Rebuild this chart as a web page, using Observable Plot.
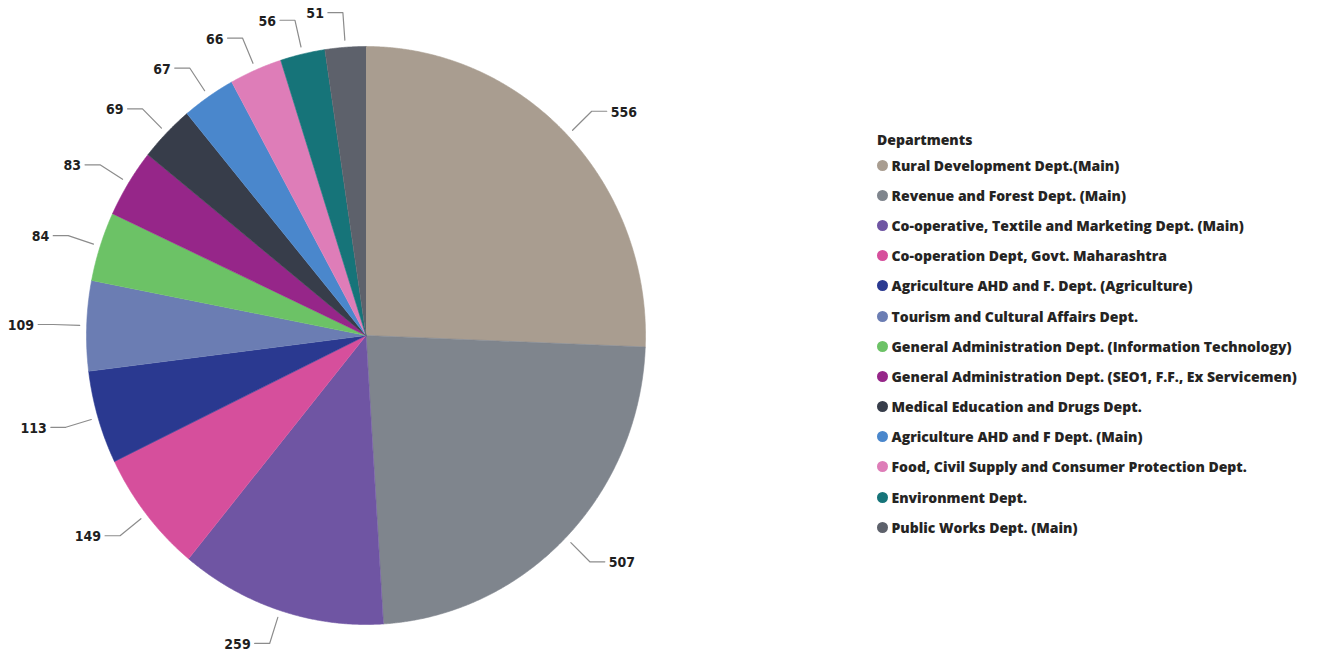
<!DOCTYPE html>
<html><head><meta charset="utf-8">
<script src="https://cdn.jsdelivr.net/npm/d3@7"></script>
<script src="https://cdn.jsdelivr.net/npm/@observablehq/plot@0.6"></script>
<style>
body{margin:0;background:#fff;}
#wrap{position:relative;width:1317px;height:655px;overflow:hidden;}
#legend{position:absolute;left:877px;top:130px;font-family:"Open Sans","Noto Sans",sans-serif;font-weight:800;font-size:14px;color:#252423;}
#legend .title{height:20px;line-height:20px;}
#legend .item{height:30.2px;display:flex;align-items:center;white-space:nowrap;}
#legend .sw{width:11px;height:11px;border-radius:50%;margin-right:3.5px;flex:none;}
</style></head><body>
<div id="wrap"><div id="chart"></div><div id="legend"></div></div>
<script>
const departments = [
  "Rural Development Dept.(Main)",
  "Revenue and Forest Dept. (Main)",
  "Co-operative, Textile and Marketing Dept. (Main)",
  "Co-operation Dept, Govt. Maharashtra",
  "Agriculture AHD and F. Dept. (Agriculture)",
  "Tourism and Cultural Affairs Dept.",
  "General Administration Dept. (Information Technology)",
  "General Administration Dept. (SEO1, F.F., Ex Servicemen)",
  "Medical Education and Drugs Dept.",
  "Agriculture AHD and F Dept. (Main)",
  "Food, Civil Supply and Consumer Protection Dept.",
  "Environment Dept.",
  "Public Works Dept. (Main)"
];
const counts = [556, 507, 259, 149, 113, 109, 84, 83, 69, 67, 66, 56, 51];
const colors = ["#A99D90","#7F858D","#6F55A3","#D64F9C","#2A3990","#6B7DB3","#6CC266","#962689","#373D4A","#4A87CC","#DE7DB8","#167479","#5D616B"];
const legendTitle = "Departments";

const data = departments.map((name, i) => ({name, value: counts[i]}));
const arcs = d3.pie().sort(null).value(d => d.value)(data);

// slice outlines (geometry derived from the pie angles)
const slicePts = [];
for (const a of arcs) {
  const name = a.data.name;
  slicePts.push({name, x: 0, y: 0});
  const n = Math.max(2, Math.ceil((a.endAngle - a.startAngle) / 0.004));
  for (let k = 0; k <= n; k++) {
    const t = a.startAngle + (a.endAngle - a.startAngle) * k / n;
    slicePts.push({name, x: Math.sin(t), y: Math.cos(t)});
  }
}

// leader lines and labels
const hx = 15 / 279.5;
const leaders = [], labels = [];
for (const a of arcs) {
  const m = (a.startAngle + a.endAngle) / 2;
  const s = Math.sin(m), c = Math.cos(m);
  const right = s >= 0;
  const bx = s * 1.12, by = c * 1.12;
  const ex = bx + (right ? hx : -hx);
  leaders.push({name: a.data.name, x: s * 1.025, y: c * 1.025});
  leaders.push({name: a.data.name, x: bx, y: by});
  leaders.push({name: a.data.name, x: ex, y: by});
  labels.push({x: ex, y: by, text: String(a.data.value), right});
}

const labelFont = "'DejaVu Sans Condensed','Liberation Sans Narrow','Open Sans',sans-serif";
const chart = Plot.plot({
  width: 1317, height: 655, margin: 0,
  style: {background: "transparent", overflow: "visible"},
  x: {domain: [-1, 1], range: [86, 645], axis: null},
  y: {domain: [-1, 1], range: [624, 46], axis: null},
  color: {domain: departments, range: colors},
  marks: [
    Plot.line(slicePts, {x: "x", y: "y", z: "name", fill: "name", stroke: "name", strokeWidth: 0.6, curve: "linear"}),
    Plot.line(leaders, {x: "x", y: "y", z: "name", stroke: "#8c8c8c", strokeWidth: 1.2}),
    Plot.text(labels, {filter: d => d.right, x: "x", y: "y", text: "text", textAnchor: "start", dx: 4, dy: 1, fill: "#1f1f1f", fontSize: 14, fontWeight: 800, fontFamily: labelFont}),
    Plot.text(labels, {filter: d => !d.right, x: "x", y: "y", text: "text", textAnchor: "end", dx: -4, dy: 1, fill: "#1f1f1f", fontSize: 14, fontWeight: 800, fontFamily: labelFont})
  ]
});
document.getElementById("chart").appendChild(chart);

const lg = document.getElementById("legend");
const t = document.createElement("div");
t.className = "title"; t.textContent = legendTitle; lg.appendChild(t);
departments.forEach((name, i) => {
  const row = document.createElement("div"); row.className = "item";
  const sw = document.createElement("span"); sw.className = "sw"; sw.style.background = colors[i];
  const tx = document.createElement("span"); tx.textContent = name;
  row.appendChild(sw); row.appendChild(tx); lg.appendChild(row);
});
</script>
</body></html>
